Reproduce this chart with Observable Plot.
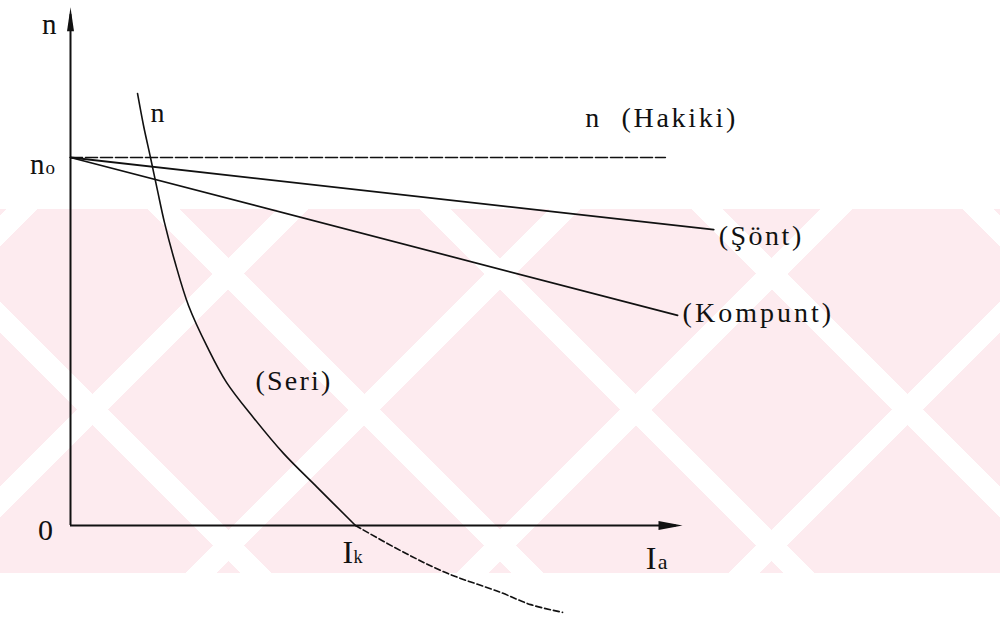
<!DOCTYPE html>
<html><head><meta charset="utf-8">
<script src="https://cdn.jsdelivr.net/npm/d3@7"></script>
<script src="https://cdn.jsdelivr.net/npm/@observablehq/plot@0.6"></script>
<style>
html,body{margin:0;padding:0;background:#fff;}
#wrap{position:relative;width:1000px;height:617px;overflow:hidden;}
#wm{position:absolute;left:0;top:209px;width:1000px;height:364px;background-color:#fdebef;
 background-image:
  repeating-linear-gradient(45deg, transparent 0 170px, #ffffff 170px 192px),
  repeating-linear-gradient(-45deg, transparent 0 170px, #ffffff 170px 192px);}
#chart{position:absolute;left:0;top:0;}
</style></head>
<body>
<div id="wrap"><div id="wm"></div><div id="chart"></div></div>
<script>
// Armature current Ia (arbitrary units) and speed n (percent of no-load speed n0)
const seriI = [10.95, 11.93, 13.07, 14.22, 15.36, 17.0, 19.28, 22.39, 25.49, 29.9, 34.8, 40.36, 46.57];
const seriN = [117.4, 108.7, 100, 91.0, 82.3, 72.0, 59.8, 48.4, 38.9, 29.3, 19.6, 10.3, 0];
const seriBelowI = [46.57, 53.9, 61.3, 70.3, 75.2, 80.4];
const seriBelowN = [0, -6.8, -12.8, -18.2, -21.5, -23.6];
const sontI = [0, 105.1];
const sontN = [100, 80.4];
const kompuntI = [0, 99.2];
const kompuntN = [100, 57.1];
const hakikiI = [0, 97.2];
const hakikiN = [100, 100];
const n0 = 100;
const Ik = 46.57;
const Ia = 96.1;
const xAxisEnd = 100;
const yAxisEnd = 140.8;
const labels = {seri: "(Seri)", sont: "(Şönt)", kompunt: "(Kompunt)", hakiki: "n\u00a0\u00a0(Hakiki)", n: "n"};
const spacing = {"(Seri)": 2.2, "(Şönt)": 2.5, "(Kompunt)": 3.0, "n\u00a0\u00a0(Hakiki)": 2.7};

const pts = (xs, ys) => xs.map((x, i) => ({x, y: ys[i]}));
const seri = pts(seriI, seriN);
const seriBelow = pts(seriBelowI, seriBelowN);
const sont = pts(sontI, sontN);
const kompunt = pts(kompuntI, kompuntN);
const hakiki = pts(hakikiI, hakikiN);

const arrowHead = (hw) => ({draw(ctx) { ctx.moveTo(0, 0); ctx.lineTo(hw, 24); ctx.lineTo(-hw, 24); ctx.closePath(); }});
const font = "Liberation Serif, Times New Roman, serif";
const ink = "#111";

const svg = Plot.plot({
  width: 1000, height: 617,
  x: {domain: [0, 100], range: [70, 682], axis: null},
  y: {domain: [0, 100], range: [525, 157], axis: null},
  style: {background: "transparent", fontFamily: font, color: ink},
  marks: [
    Plot.ruleX([0], {y1: 0, y2: yAxisEnd - 2, stroke: ink, strokeWidth: 2}),
    Plot.ruleY([0], {x1: 0, x2: xAxisEnd - 1, stroke: ink, strokeWidth: 2}),
    Plot.dot([{x: 0, y: yAxisEnd}], {x: "x", y: "y", symbol: arrowHead(3.5), fill: ink, stroke: "none", r: 1}),
    Plot.dot([{x: xAxisEnd, y: 0}], {x: "x", y: "y", symbol: arrowHead(4.5), fill: ink, stroke: "none", r: 1, rotate: 90}),
    Plot.line(hakiki, {x: "x", y: "y", stroke: ink, strokeWidth: 1.6, strokeDasharray: "12,3"}),
    Plot.line(sont, {x: "x", y: "y", stroke: ink, strokeWidth: 1.8}),
    Plot.line(kompunt, {x: "x", y: "y", stroke: ink, strokeWidth: 1.7}),
    Plot.line(seri, {x: "x", y: "y", stroke: ink, strokeWidth: 1.6, curve: "catmull-rom"}),
    Plot.line(seriBelow, {x: "x", y: "y", stroke: ink, strokeWidth: 1.6, curve: "catmull-rom", strokeDasharray: "6,3"}),
    // curve labels
    Plot.text([sont[1]], {x: "x", y: "y", text: () => labels.sont, textAnchor: "start", dx: 5, dy: 6, fontSize: 28, fill: ink}),
    Plot.text([kompunt[1]], {x: "x", y: "y", text: () => labels.kompunt, textAnchor: "start", dx: 5, dy: -2, fontSize: 28, fill: ink}),
    Plot.text([hakiki[1]], {x: "x", y: "y", text: () => labels.hakiki, textAnchor: "start", dx: -80, dy: -39, fontSize: 28, fill: ink}),
    Plot.text([seri[8]], {x: "x", y: "y", text: () => labels.seri, textAnchor: "start", dx: 29, dy: -1, fontSize: 28, fill: ink}),
    Plot.text([seri[0]], {x: "x", y: "y", text: () => labels.n, textAnchor: "start", dx: 13, dy: 20, fontSize: 28, fill: ink}),
    // axis labels
    Plot.text([{x: 0, y: yAxisEnd}], {x: "x", y: "y", text: () => "n", textAnchor: "end", dx: -14, dy: 17, fontSize: 29, fill: ink}),
    Plot.text([{x: 0, y: n0}], {x: "x", y: "y", text: () => "n", textAnchor: "end", dx: -26, dy: 7, fontSize: 29, fill: ink}),
    Plot.text([{x: 0, y: n0}], {x: "x", y: "y", text: () => "o", textAnchor: "start", dx: -25, dy: 10, fontSize: 19, fill: ink}),
    Plot.text([{x: 0, y: 0}], {x: "x", y: "y", text: () => "0", textAnchor: "middle", dx: -25, dy: 5, fontSize: 30, fill: ink}),
    Plot.text([{x: Ik, y: 0}], {x: "x", y: "y", text: () => "I", textAnchor: "start", dx: -13, dy: 27, fontSize: 32, fill: ink}),
    Plot.text([{x: Ik, y: 0}], {x: "x", y: "y", text: () => "k", textAnchor: "start", dx: -2, dy: 32, fontSize: 18, fill: ink}),
    Plot.text([{x: Ia, y: 0}], {x: "x", y: "y", text: () => "I", textAnchor: "start", dx: -13, dy: 33, fontSize: 32, fill: ink}),
    Plot.text([{x: Ia, y: 0}], {x: "x", y: "y", text: () => "a", textAnchor: "start", dx: -1, dy: 36, fontSize: 22, fill: ink})
  ]
});
d3.select(svg).selectAll("text").each(function() {
  const s = spacing[this.textContent];
  if (s != null) this.setAttribute("letter-spacing", s + "px");
});
document.getElementById("chart").appendChild(svg);
</script>
</body></html>
